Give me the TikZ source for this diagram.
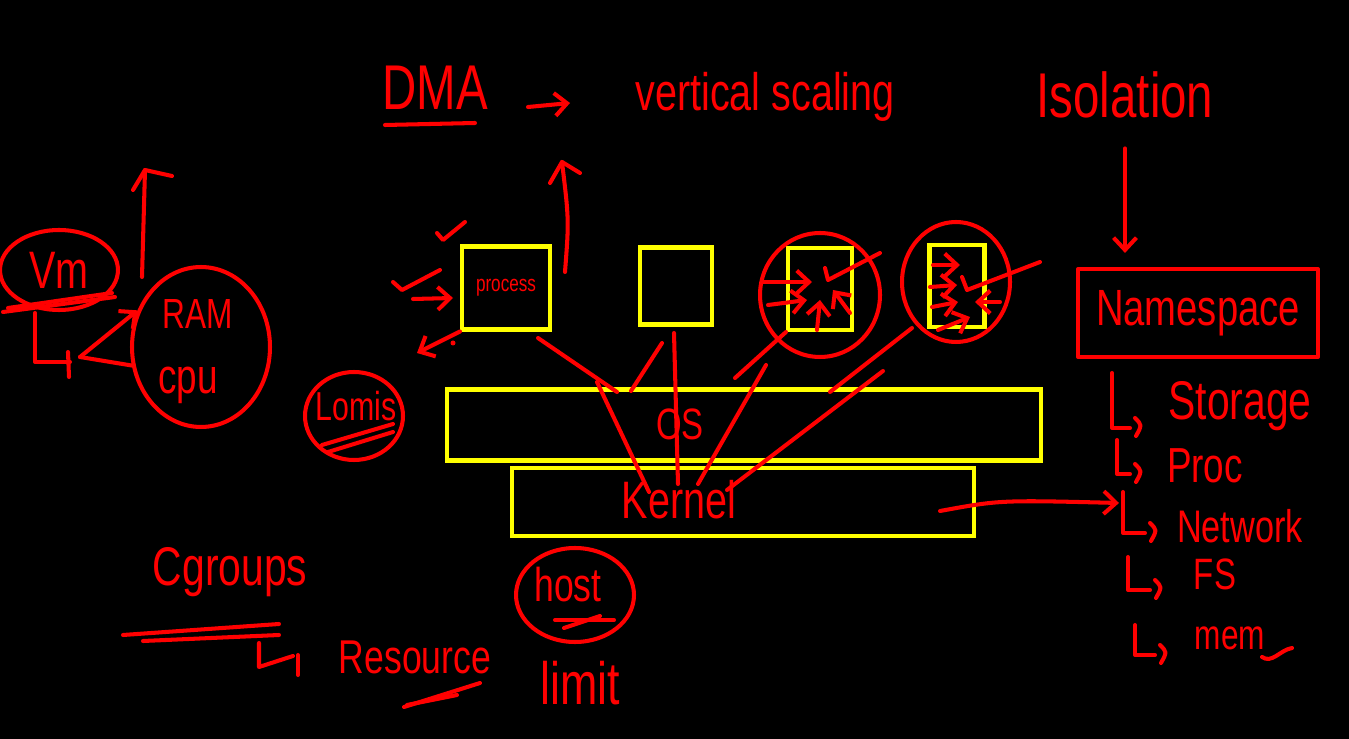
\documentclass[tikz,border=0pt]{standalone}
\usepackage{fontspec}
\newfontfamily\handfont[FakeStretch=0.75]{Liberation Sans}
\usetikzlibrary{shapes.geometric, arrows.meta}
\definecolor{inkred}{RGB}{255,0,0}
\definecolor{boxyellow}{RGB}{255,255,0}
\tikzset{
  ink/.style={draw=inkred, line width=2.3pt, line cap=round, line join=round},
  ybox/.style={draw=boxyellow, line width=2.3pt, rectangle, inner sep=0pt},
  ring/.style={ink, ellipse, inner sep=0pt},
  word/.style={text=inkred, inner sep=0pt, font=\handfont\fontsize{#1}{#1}\selectfont},
}
\begin{document}
\begin{tikzpicture}[x=0.02cm, y=-0.02cm, >={Straight Barb[length=7pt, width=13pt]}]
\useasboundingbox (0,0) rectangle (1349,739);
\fill[black] (0,0) rectangle (1349,739);
% top line
\node[word=36] (dma) at (435,88) {DMA};
\draw[ink] (385,125) -- (475,123);
\draw[ink,->] (528,107) -- (570,103);
\node[word=30] (vscale) at (765,97) {vertical scaling};
\node[word=36] (iso) at (1125,95) {Isolation};
% namespace and its list
\node[ink, rectangle, minimum width=4.8cm, minimum height=1.76cm, word=29] (ns) at (1198,313) {Namespace};
\draw[ink,->, shorten <=17pt, shorten >=8pt] (iso.south) -- (iso.south |- ns.north);
\foreach \hx/\ht/\hb/\ha/\lx/\ly/\sz/\txt [count=\i] in {
  1112/373/428/1130/1240/425/31/Storage,
  1117/440/474/1130/1205/483/28/Proc,
  1123/492/533/1145/1240/543/26/Network,
  1128/557/590/1150/1215/590/25/FS,
  1135/625/655/1155/1230/650/24/mem}{
  \draw[ink] (\hx,\ht) -- (\hx,\hb) -- (\ha,\hb);
  \draw[ink] (\ha+5,\hb-10) .. controls (\ha+12,\hb-3) .. (\ha+6,\hb+8);
  \node[word=\sz] (item\i) at (\lx,\ly) {\txt};
}
\draw[ink] (1262,657) .. controls (1272,664) and (1280,650) .. (1292,648);
% vm side
\node[ring, minimum width=2.36cm, minimum height=1.6cm, word=30] (vm) at (59,270) {Vm};
\draw[ink] (3,312) -- (115,297);
\draw[ink] (8,308) -- (112,293);
\draw[ink] (35,313) -- (35,362) -- (70,362);
\draw[ink] (68,352) -- (69,377);
\node[ring, minimum width=2.76cm, minimum height=3.2cm] (hw) at (201,347) {};
\node[word=24] (ram) at (198,314) {RAM};
\node[word=28] (cpu) at (188,385) {cpu};
\coordinate (split) at (80,357);
\draw[ink,->] (split) -- (hw.150);
\draw[ink] (split) -- (hw.195);
\draw[ink] (142,277) -- (145,170) -- (172,176);
\draw[ink] (145,170) -- (133,190);
% process box
\node[ybox, minimum width=1.76cm, minimum height=1.66cm, word=13] (proc) at (506,288) {process};
\draw[ink] (437,233) -- (443,240) -- (465,222);
\draw[ink] (393,282) -- (402,290) -- (440,270);
\coordinate (pin) at (413,299);
\draw[ink,->] (pin) -- (453,298);
\draw[ink,->] (proc.south west) -- (417,353);
\fill[inkred] (453,343) circle (2.5);
\node[ring, minimum width=1.96cm, minimum height=1.76cm] (lomis) at (354,416) {};
\node[word=23] (lomislbl) at (356,406) {Lomis};
\draw[ink] (322,445) -- (393,424);
\draw[ink] (328,452) -- (393,432);
\draw[ink] (565,272) .. controls (569,220) .. (562,162);
\draw[ink] (550,183) -- (562,162) -- (580,173);
% other boxes
\node[ybox, minimum width=1.44cm, minimum height=1.54cm] (box2) at (676,286) {};
\node[ybox, minimum width=1.28cm, minimum height=1.64cm] (box3) at (820,289) {};
\node[ring, minimum width=2.4cm, minimum height=2.48cm] (ring3) at (820,295) {};
\draw[ink,->] (762,282) -- (812,282);
\draw[ink,->] (768,305) -- (807,300);
\draw[ink,->] (817,330) -- (820,300);
\draw[ink,->] (850,313) -- (833,290);
\draw[ink] (825,268) -- (828,280) -- (880,253);
\node[ybox, minimum width=1.1cm, minimum height=1.64cm] (box4) at (957,286) {};
\node[ring, minimum width=2.16cm, minimum height=2.4cm] (ring4) at (956,282) {};
\draw[ink,->] (933,265) -- (960,265);
\draw[ink,->] (930,287) -- (957,285);
\draw[ink,->] (932,307) -- (958,302);
\draw[ink,->] (938,330) -- (970,317);
\draw[ink] (962,277) -- (967,290) -- (1040,262);
\draw[ink,->] (1000,302) -- (975,302);
% os and kernel
\node[ybox, minimum width=11.9cm, minimum height=1.42cm] (os) at (744,425) {};
\node[word=25] (oslbl) at (680,424) {OS};
\node[ybox, minimum width=9.24cm, minimum height=1.36cm] (kernel) at (743,502) {};
\node[word=30] (klbl) at (679,500) {Kernel};
\draw[ink] (538,338) -- (617,392);
\draw[ink] (597,382) -- (649,492);
\draw[ink] (631,391) -- (662,343);
\draw[ink] (674,333) -- (678,484);
\draw[ink] (698,484) -- (766,365);
\draw[ink] (735,378) -- (786,332);
\draw[ink] (830,392) -- (912,328);
\draw[ink] (727,490) -- (883,371);
\coordinate (kin) at (1119,503);
\draw[ink,->] (940,511) .. controls (1000,500) .. (kin);
% cgroups
\node[word=31] (cg) at (230,572) {Cgroups};
\draw[ink] (123,635) -- (279,624);
\draw[ink] (143,641) -- (279,635);
\draw[ink] (259,643) -- (259,667) -- (293,656);
\draw[ink] (298,655) -- (298,675);
\node[word=27] (res) at (415,657) {Resource};
\draw[ink] (404,707) -- (480,683);
\draw[ink] (407,705) -- (457,695);
\node[ring, minimum width=2.36cm, minimum height=1.88cm] (hostring) at (575,595) {};
\node[word=27] (host) at (568,585) {host};
\draw[ink] (555,620) -- (614,620);
\draw[ink] (564,628) -- (600,616);
\node[word=34] (limit) at (580,683) {limit};
\end{tikzpicture}
\end{document}
